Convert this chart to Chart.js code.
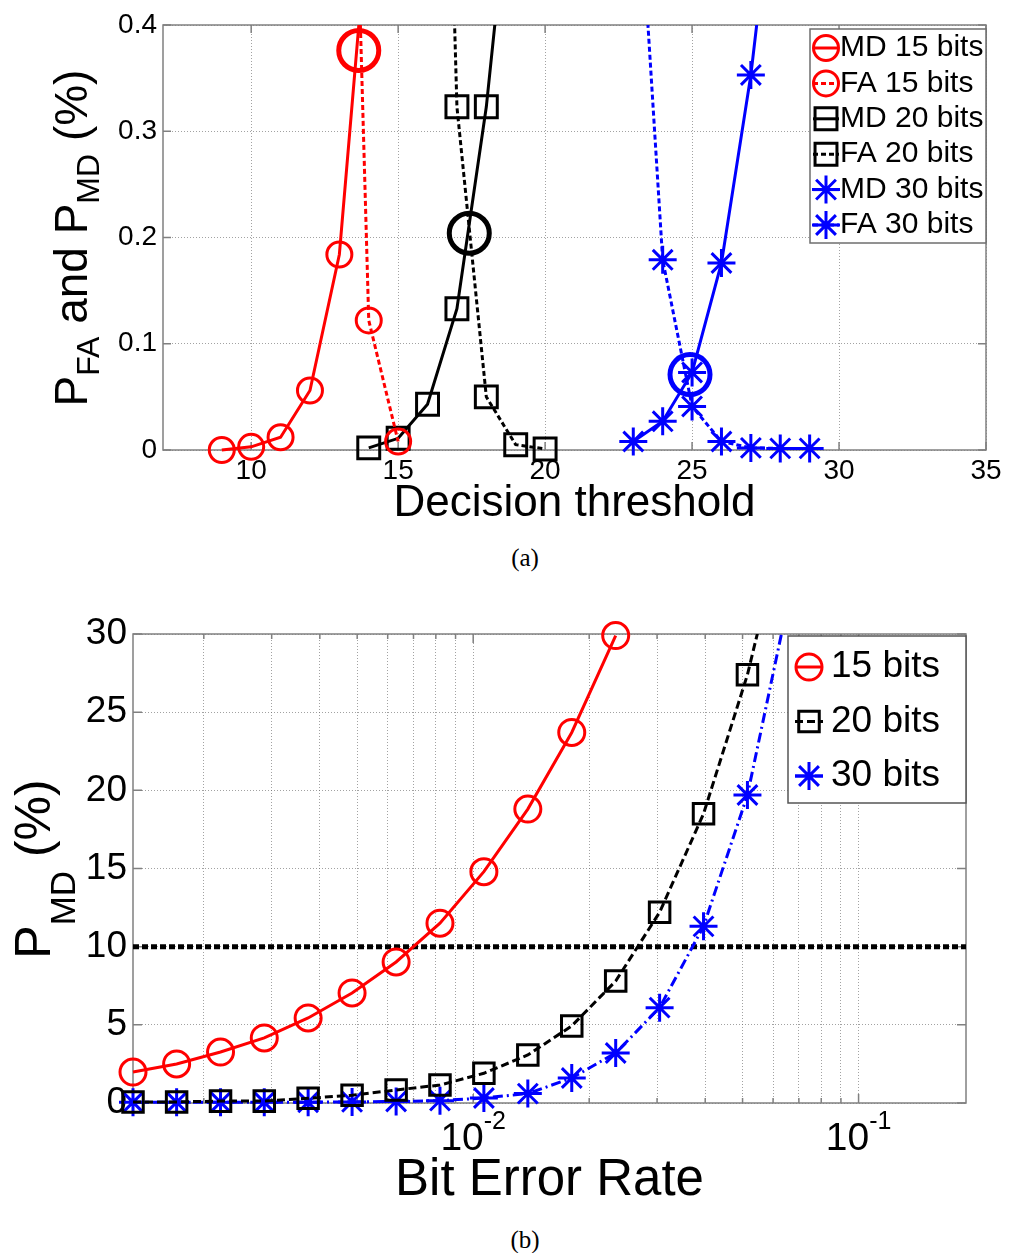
<!DOCTYPE html>
<html>
<head>
<meta charset="utf-8">
<script src="https://cdn.jsdelivr.net/npm/chart.js@4.4.1/dist/chart.umd.min.js"></script>
<style>
  html, body { margin: 0; padding: 0; background: #fff; }
  body { width: 1011px; height: 1253px; position: relative; overflow: hidden; }
  canvas { position: absolute; left: 0; }
  #chartA { top: 0; }
  #chartB { top: 580px; }
  .cap { position: absolute; left: 475px; width: 100px; text-align: center;
         font-family: 'Liberation Serif', 'Times New Roman', serif; font-size: 25px; line-height: 28px; }
</style>
</head>
<body>
<canvas id="chartA" width="1011" height="530"></canvas>
<div class="cap" style="top:544px">(a)</div>
<canvas id="chartB" width="1011" height="640"></canvas>
<div class="cap" style="top:1226px">(b)</div>
<script>
// (a) PFA / PMD against the decision threshold
const thresholds15 = [9, 10, 11, 12, 13, 14];
const md15 = [0.000, 0.003, 0.012, 0.056, 0.184, 0.51];
const faThresholds15 = [13, 14, 15];
const fa15 = [1.1, 0.122, 0.008];
const thresholds20 = [14, 15, 16, 17, 18, 19];
const md20 = [0.002, 0.011, 0.043, 0.133, 0.323, 0.59];
const faThresholds20 = [16, 17, 18, 19, 20];
const fa20 = [1.3, 0.323, 0.050, 0.005, 0.001];
const thresholds30 = [23, 24, 25, 26, 27, 28];
const md30 = [0.008, 0.027, 0.073, 0.176, 0.353, 0.59];
const faThresholds30 = [23, 24, 25, 26, 27, 28, 29];
const fa30 = [0.62, 0.179, 0.041, 0.008, 0.002, 0.0015, 0.0015];
const crossX = [13.66, 17.42, 24.93];
const crossY = [0.376, 0.204, 0.071];
const thresholdTicks = [10, 15, 20, 25, 30, 35];
const probTicks = [0, 0.1, 0.2, 0.3, 0.4];
const labelsA = ['MD 15 bits', 'FA 15 bits', 'MD 20 bits', 'FA 20 bits', 'MD 30 bits', 'FA 30 bits'];
const titleA = ['P', 'FA', ' and P', 'MD', ' (%)'];

// (b) PMD against the bit error rate
const ber = [0.00131, 0.00170, 0.00221, 0.00287, 0.00373, 0.00485, 0.00631, 0.00820,
             0.01066, 0.01386, 0.01802, 0.02343, 0.03046, 0.03960, 0.05148, 0.06692];
const pmd15 = [1.98, 2.5, 3.26, 4.16, 5.44, 7.04, 9.02, 11.5, 14.8, 18.8, 23.7, 29.9];
const pmd20 = [0.07, 0.07, 0.12, 0.12, 0.3, 0.5, 0.83, 1.15, 1.9, 3.07, 4.93, 7.8, 12.2, 18.5, 27.4, 39];
const pmd30 = [0.05, 0.05, 0.05, 0.05, 0.05, 0.07, 0.1, 0.15, 0.32, 0.6, 1.6, 3.2, 6.1, 11.3, 19.7, 33];
const pmdTarget = 10;
const berMax = 0.19;
const berGrid = [0.002, 0.003, 0.004, 0.005, 0.006, 0.007, 0.008, 0.009, 0.01,
                 0.02, 0.03, 0.04, 0.05, 0.06, 0.07, 0.08, 0.09, 0.1];
const berLabelValues = [0.01, 0.1];
const berLabelExps = ['-2', '-1'];
const pmdTicks = [0, 5, 10, 15, 20, 25, 30];
const labelsB = ['15 bits', '20 bits', '30 bits'];
const titleB = ['P', 'MD', ' (%)'];

const FONT = "'Liberation Sans', Arial, Helvetica, sans-serif";
const RED = '#ff0000', BLACK = '#000000', BLUE = '#0000ff';
const GRID = 'rgba(100,100,100,0.6)';
const EDGE = '#808080';

Chart.defaults.font.family = FONT;
Chart.defaults.color = '#000';

function pts(xs, ys) {
  return xs.map((x, i) => ({ x: x, y: ys[i] }));
}

function series(label, xs, ys, color, dash, style, radius) {
  return {
    label: label,
    data: pts(xs, ys),
    borderColor: color,
    backgroundColor: color,
    borderWidth: 3,
    borderDash: dash,
    pointStyle: style,
    pointRadius: radius,
    pointHoverRadius: radius,
    pointBorderColor: color,
    pointBackgroundColor: 'rgba(0,0,0,0)',
    pointBorderWidth: 3,
    tension: 0,
    fill: false,
    clip: { left: 30, right: 30, top: 0, bottom: 30 }
  };
}

// fallback in case helpers are not exposed
function drawMarker(ctx, style, r, x, y) {
  if (Chart.helpers && Chart.helpers.drawPoint) {
    Chart.helpers.drawPoint(ctx, { pointStyle: style, radius: r, rotation: 0, borderWidth: ctx.lineWidth }, x, y);
    return;
  }
  ctx.beginPath();
  if (style === 'circle') ctx.arc(x, y, r, 0, Math.PI * 2);
  else if (style === 'rect') { const s = r * Math.SQRT1_2; ctx.rect(x - s, y - s, 2 * s, 2 * s); }
  else {
    const d = r * Math.SQRT1_2;
    ctx.moveTo(x - r, y); ctx.lineTo(x + r, y); ctx.moveTo(x, y - r); ctx.lineTo(x, y + r);
    ctx.moveTo(x - d, y - d); ctx.lineTo(x + d, y + d); ctx.moveTo(x - d, y + d); ctx.lineTo(x + d, y - d);
  }
  ctx.stroke();
}

// axes box with inward tick marks
function frame(xMajor, len, minorLen) {
  return {
    id: 'frame',
    beforeDatasetsDraw(chart) {
      const { ctx, chartArea: a, scales } = chart;
      ctx.save();
      ctx.strokeStyle = EDGE;
      ctx.lineWidth = 1.5;
      ctx.setLineDash([]);
      ctx.beginPath();
      scales.x.ticks.forEach(t => {
        const px = scales.x.getPixelForValue(t.value);
        const l = (!xMajor || xMajor.includes(t.value)) ? len : minorLen;
        ctx.moveTo(px, a.bottom); ctx.lineTo(px, a.bottom - l);
        ctx.moveTo(px, a.top); ctx.lineTo(px, a.top + l);
      });
      scales.y.ticks.forEach(t => {
        const py = scales.y.getPixelForValue(t.value);
        ctx.moveTo(a.left, py); ctx.lineTo(a.left + len, py);
        ctx.moveTo(a.right, py); ctx.lineTo(a.right - len, py);
      });
      ctx.stroke();
      ctx.strokeRect(a.left, a.top, a.right - a.left, a.bottom - a.top);
      ctx.restore();
    }
  };
}

// boxed legend: line sample + marker + label
function boxLegend(cfg) {
  return {
    id: 'boxLegend',
    afterDraw(chart) {
      const ctx = chart.ctx;
      ctx.save();
      ctx.fillStyle = '#fff';
      ctx.fillRect(cfg.left, cfg.top, cfg.width, cfg.height);
      ctx.strokeStyle = cfg.edge;
      ctx.lineWidth = 1.5;
      ctx.strokeRect(cfg.left, cfg.top, cfg.width, cfg.height);
      cfg.items.forEach((di, k) => {
        const ds = chart.data.datasets[di];
        const y = cfg.firstRow + k * cfg.rowGap;
        ctx.strokeStyle = ds.borderColor;
        ctx.lineWidth = ds.borderWidth;
        ctx.setLineDash(ds.borderDash || []);
        ctx.beginPath();
        ctx.moveTo(cfg.markX - cfg.half, y);
        ctx.lineTo(cfg.markX + cfg.half, y);
        ctx.stroke();
        ctx.setLineDash([]);
        ctx.lineWidth = ds.pointBorderWidth;
        ctx.fillStyle = 'rgba(0,0,0,0)';
        drawMarker(ctx, ds.pointStyle, ds.pointRadius, cfg.markX, y);
        ctx.fillStyle = '#000';
        ctx.font = cfg.fontSize + 'px ' + FONT;
        ctx.textAlign = 'left';
        ctx.textBaseline = 'middle';
        ctx.fillText(ds.label, cfg.textX, y);
      });
      ctx.restore();
    }
  };
}

// rotated y title with subscripts (odd parts are subscripts)
function richYTitle(cfg) {
  return {
    id: 'richYTitle',
    afterDraw(chart) {
      const ctx = chart.ctx;
      ctx.save();
      ctx.fillStyle = '#000';
      ctx.textBaseline = 'alphabetic';
      ctx.textAlign = 'left';
      const fonts = cfg.parts.map((p, i) => (i % 2 ? cfg.sub : cfg.main) + 'px ' + FONT);
      const widths = cfg.parts.map((p, i) => { ctx.font = fonts[i]; return ctx.measureText(p).width; });
      const total = widths.reduce((a, b) => a + b, 0);
      ctx.translate(cfg.x, cfg.y);
      ctx.rotate(-Math.PI / 2);
      let pos = -total / 2;
      cfg.parts.forEach((p, i) => {
        ctx.font = fonts[i];
        ctx.fillText(p, pos, i % 2 ? cfg.shift : 0);
        pos += widths[i];
      });
      ctx.restore();
    }
  };
}

// 10^n tick labels for the log axis
function powerLabels(cfg) {
  return {
    id: 'powerLabels',
    afterDraw(chart) {
      const ctx = chart.ctx;
      const xs = chart.scales.x;
      ctx.save();
      ctx.fillStyle = '#000';
      ctx.textBaseline = 'alphabetic';
      ctx.textAlign = 'left';
      cfg.values.forEach((v, i) => {
        const px = xs.getPixelForValue(v);
        ctx.font = cfg.main + 'px ' + FONT;
        const wb = ctx.measureText('10').width;
        ctx.font = cfg.sup + 'px ' + FONT;
        const we = ctx.measureText(cfg.exps[i]).width;
        const x0 = px - (wb + we) / 2;
        ctx.font = cfg.main + 'px ' + FONT;
        ctx.fillText('10', x0, cfg.base);
        ctx.font = cfg.sup + 'px ' + FONT;
        ctx.fillText(cfg.exps[i], x0 + wb, cfg.supBase);
      });
      ctx.restore();
    }
  };
}

// ---------- chart (a) ----------
const dataA = [
  series(labelsA[0], thresholds15, md15, RED, [], 'circle', 12.5),
  series(labelsA[1], faThresholds15, fa15, RED, [5, 3], 'circle', 12.5),
  series(labelsA[2], thresholds20, md20, BLACK, [], 'rect', 15.5),
  series(labelsA[3], faThresholds20, fa20, BLACK, [5, 3], 'rect', 15.5),
  series(labelsA[4], thresholds30, md30, BLUE, [], 'star', 14),
  series(labelsA[5], faThresholds30, fa30, BLUE, [5, 3], 'star', 14),
  {
    label: 'crossing',
    data: pts(crossX, crossY),
    showLine: false,
    pointStyle: 'circle',
    pointRadius: 20,
    pointHoverRadius: 20,
    pointBorderWidth: 5,
    pointBorderColor: [RED, BLACK, BLUE],
    pointBackgroundColor: 'rgba(0,0,0,0)',
    clip: false
  }
];

new Chart(document.getElementById('chartA'), {
  type: 'line',
  data: { datasets: dataA },
  options: {
    responsive: false,
    animation: false,
    events: [],
    layout: { padding: { left: 0, right: 21, top: 25, bottom: 0 } },
    plugins: { legend: { display: false }, tooltip: { enabled: false } },
    scales: {
      x: {
        type: 'linear', min: 7, max: 35,
        afterBuildTicks: s => { s.ticks = thresholdTicks.map(v => ({ value: v })); },
        afterFit: s => { s.height = 80; },
        grid: { color: GRID, lineWidth: 1, drawTicks: false },
        border: { display: false, dash: [1, 2] },
        ticks: { font: { size: 28 }, color: '#000', padding: 4, maxRotation: 0, autoSkip: false,
                 callback: v => String(v) },
        title: { display: true, text: 'Decision threshold', color: '#000',
                 font: { size: 44, lineHeight: 1 }, padding: { top: 0, bottom: 4 } }
      },
      y: {
        type: 'linear', min: 0, max: 0.4,
        afterBuildTicks: s => { s.ticks = probTicks.map(v => ({ value: v })); },
        afterFit: s => { s.width = 163; },
        grid: { color: GRID, lineWidth: 1, drawTicks: false },
        border: { display: false, dash: [1, 2] },
        ticks: { font: { size: 28 }, color: '#000', padding: 6, autoSkip: false,
                 callback: v => String(v) }
      }
    }
  },
  plugins: [
    frame(null, 8, 8),
    richYTitle({ parts: titleA, x: 87, y: 238, main: 46, sub: 32, shift: 12 }),
    boxLegend({ items: [0, 1, 2, 3, 4, 5], left: 810, top: 29, width: 176, height: 214,
                firstRow: 48, rowGap: 35.4, markX: 826, half: 13, textX: 840, fontSize: 30, edge: '#6e6e6e' })
  ]
});

// ---------- chart (b) ----------
const curve15 = series(labelsB[0], ber.slice(0, pmd15.length), pmd15, RED, [], 'circle', 13);
curve15.clip = false;
const dataB = [
  curve15,
  series(labelsB[1], ber, pmd20, BLACK, [8, 4], 'rect', 14.5),
  series(labelsB[2], ber, pmd30, BLUE, [10, 4, 2, 4], 'star', 14),
  {
    label: 'target',
    data: pts([ber[0], berMax], [pmdTarget, pmdTarget]),
    borderColor: BLACK,
    borderWidth: 5,
    borderDash: [6, 3],
    pointRadius: 0,
    fill: false,
    clip: false
  }
];

new Chart(document.getElementById('chartB'), {
  type: 'line',
  data: { datasets: dataB },
  options: {
    responsive: false,
    animation: false,
    events: [],
    layout: { padding: { left: 0, right: 45, top: 54, bottom: 0 } },
    plugins: { legend: { display: false }, tooltip: { enabled: false } },
    scales: {
      x: {
        type: 'logarithmic', min: ber[0], max: berMax,
        afterBuildTicks: s => { s.ticks = berGrid.map(v => ({ value: v })); },
        afterFit: s => { s.height = 117; },
        grid: { color: GRID, lineWidth: 1, drawTicks: false },
        border: { display: false, dash: [1, 2] },
        ticks: { display: false },
        title: { display: true, text: 'Bit Error Rate', color: '#000',
                 font: { size: 51, lineHeight: 1 }, padding: { top: 0, bottom: 14 } }
      },
      y: {
        type: 'linear', min: 0, max: 30,
        afterBuildTicks: s => { s.ticks = pmdTicks.map(v => ({ value: v })); },
        afterFit: s => { s.width = 133; },
        grid: { color: GRID, lineWidth: 1, drawTicks: false },
        border: { display: false, dash: [1, 2] },
        ticks: { font: { size: 37 }, color: '#000', padding: 6, autoSkip: false,
                 callback: v => String(v) }
      }
    }
  },
  plugins: [
    frame(berLabelValues, 9, 5),
    richYTitle({ parts: titleB, x: 50, y: 289, main: 50, sub: 35, shift: 25 }),
    powerLabels({ values: berLabelValues, exps: berLabelExps, main: 39, sup: 25, base: 570, supBase: 549 }),
    boxLegend({ items: [0, 1, 2], left: 788, top: 56, width: 178, height: 167,
                firstRow: 87, rowGap: 54.5, markX: 809, half: 14, textX: 831, fontSize: 37, edge: '#555555' })
  ]
});
</script>
</body>
</html>
